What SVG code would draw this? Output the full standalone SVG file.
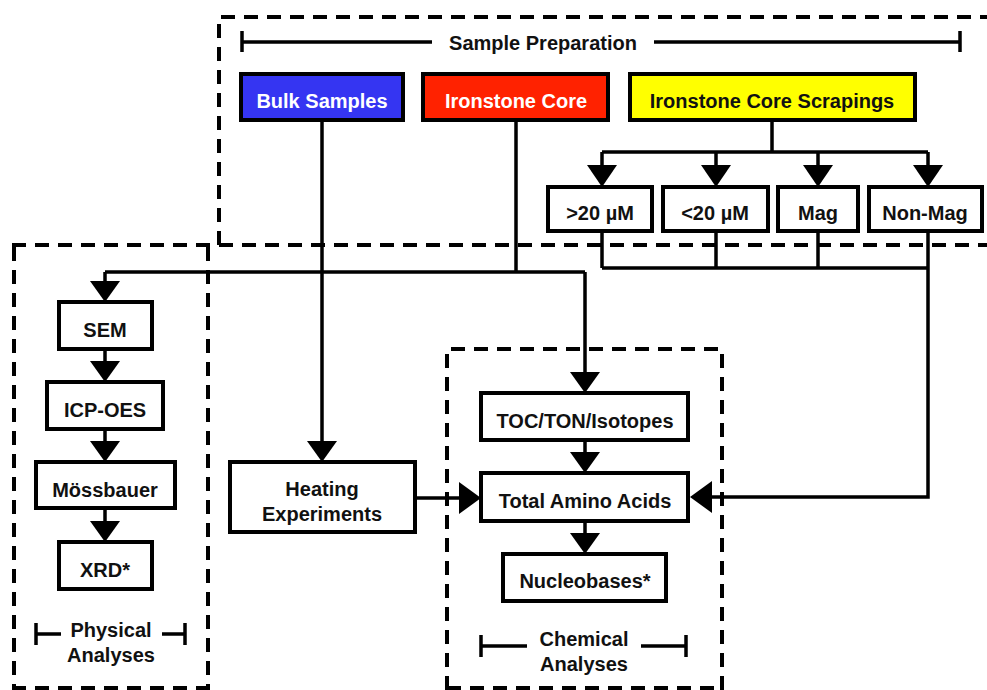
<svg xmlns="http://www.w3.org/2000/svg" width="987" height="690" viewBox="0 0 987 690">
  <style>
    .bg { fill: #ffffff; }
    .region { fill: none; stroke: #000; stroke-width: 4; stroke-dasharray: 14 9; }
    .box { fill: #ffffff; stroke: #000; stroke-width: 4; }
    .wire { fill: none; stroke: #000; stroke-width: 3.5; }
    .head { fill: #000; }
    .lbl { font-family: "Liberation Sans", Arial, sans-serif; font-weight: bold; font-size: 20px; fill: #111; text-anchor: middle; }
    .lbl.light { fill: #ffffff; }
    .brk { stroke: #000; stroke-width: 3.5; fill: none; }
  </style>

  <rect class="bg" x="0" y="0" width="987" height="690"/>

  <!-- Dashed grouping regions -->
  <g id="regions">
    <path class="region" d="M219,245 V17 H990"/>
    <path class="region" d="M12,245 H990"/>
    <path class="region" d="M14,247 V690"/>
    <path class="region" d="M208,247 V690"/>
    <path class="region" d="M12,688 H210"/>
    <path class="region" d="M447,690 V349 H722 V690"/>
    <path class="region" d="M447,688 H722"/>
  </g>

  <!-- Section headings with bracket bars -->
  <g id="label-sample-preparation">
    <path class="brk" d="M242,31 V52 M242,42 H432 M654,42 H960 M960,31 V52"/>
    <text class="lbl" x="543" y="50">Sample Preparation</text>
  </g>
  <g id="label-physical-analyses">
    <path class="brk" d="M36,623 V645 M36,634 H61 M162,634 H185 M185,623 V645"/>
    <text class="lbl" x="111" y="637">Physical</text>
    <text class="lbl" x="111" y="662">Analyses</text>
  </g>
  <g id="label-chemical-analyses">
    <path class="brk" d="M481,635 V657 M481,646 H527 M641,646 H686 M686,635 V657"/>
    <text class="lbl" x="584" y="646">Chemical</text>
    <text class="lbl" x="584" y="671">Analyses</text>
  </g>

  <!-- Connectors -->
  <g id="connectors">
    <!-- Bulk Samples to Heating Experiments -->
    <path class="wire" d="M322,120 V442"/>
    <polygon class="head" points="307,441 337,441 322,462"/>
    <!-- Ironstone Core to SEM and TOC -->
    <path class="wire" d="M516,120 V272 M105,272 H585 M105,272 V282 M585,272 V373"/>
    <polygon class="head" points="90,281 120,281 105,302"/>
    <polygon class="head" points="570,372 600,372 585,393"/>
    <!-- Scrapings split into fractions -->
    <path class="wire" d="M772,120 V152 M602,152 H928 M602,152 V166 M716,152 V166 M818,152 V166 M928,152 V166"/>
    <polygon class="head" points="587,165 617,165 602,187"/>
    <polygon class="head" points="701,165 731,165 716,187"/>
    <polygon class="head" points="803,165 833,165 818,187"/>
    <polygon class="head" points="913,165 943,165 928,187"/>
    <!-- Fractions collected to Total Amino Acids -->
    <path class="wire" d="M602,231 V268 M716,231 V268 M818,231 V268 M602,268 H928 M928,231 V497 H711"/>
    <polygon class="head" points="712,481 712,513 690,497"/>
    <!-- Heating Experiments to Total Amino Acids -->
    <path class="wire" d="M415,498 H460"/>
    <polygon class="head" points="459,482 459,514 481,498"/>
    <!-- Chemical chain -->
    <path class="wire" d="M585,440 V453 M585,521 V534"/>
    <polygon class="head" points="570,452 600,452 585,473"/>
    <polygon class="head" points="570,533 600,533 585,554"/>
    <!-- Physical chain -->
    <path class="wire" d="M105,349 V362 M105,429 V442 M105,508 V522"/>
    <polygon class="head" points="90,361 120,361 105,382"/>
    <polygon class="head" points="90,441 120,441 105,462"/>
    <polygon class="head" points="90,521 120,521 105,542"/>
  </g>

  <!-- Sample sources -->
  <g id="node-bulk-samples">
    <rect class="box" x="241" y="74" width="162" height="46" style="fill:#3535f2"/>
    <text class="lbl light" x="322" y="108">Bulk Samples</text>
  </g>
  <g id="node-ironstone-core">
    <rect class="box" x="423" y="74" width="185" height="46" style="fill:#ff2200"/>
    <text class="lbl light" x="516" y="108">Ironstone Core</text>
  </g>
  <g id="node-core-scrapings">
    <rect class="box" x="630" y="74" width="285" height="46" style="fill:#ffff00"/>
    <text class="lbl" x="772" y="108">Ironstone Core Scrapings</text>
  </g>

  <!-- Scraping fractions -->
  <g id="node-gt20">
    <rect class="box" x="548" y="187" width="104" height="44"/>
    <text class="lbl" x="600" y="220">&gt;20 µM</text>
  </g>
  <g id="node-lt20">
    <rect class="box" x="663" y="187" width="105" height="44"/>
    <text class="lbl" x="715" y="220">&lt;20 µM</text>
  </g>
  <g id="node-mag">
    <rect class="box" x="778" y="187" width="80" height="44"/>
    <text class="lbl" x="818" y="220">Mag</text>
  </g>
  <g id="node-nonmag">
    <rect class="box" x="869" y="187" width="113" height="44"/>
    <text class="lbl" x="925" y="220">Non-Mag</text>
  </g>

  <!-- Physical analyses -->
  <g id="node-sem">
    <rect class="box" x="59" y="302" width="93" height="47"/>
    <text class="lbl" x="105" y="337">SEM</text>
  </g>
  <g id="node-icp-oes">
    <rect class="box" x="47" y="382" width="116" height="47"/>
    <text class="lbl" x="105" y="417">ICP-OES</text>
  </g>
  <g id="node-mossbauer">
    <rect class="box" x="36" y="462" width="139" height="46"/>
    <text class="lbl" x="105" y="497">Mössbauer</text>
  </g>
  <g id="node-xrd">
    <rect class="box" x="59" y="542" width="93" height="47"/>
    <text class="lbl" x="105" y="577">XRD*</text>
  </g>

  <!-- Heating -->
  <g id="node-heating">
    <rect class="box" x="230" y="462" width="185" height="70"/>
    <text class="lbl" x="322" y="496">Heating</text>
    <text class="lbl" x="322" y="521">Experiments</text>
  </g>

  <!-- Chemical analyses -->
  <g id="node-toc">
    <rect class="box" x="481" y="393" width="207" height="47"/>
    <text class="lbl" x="585" y="428">TOC/TON/Isotopes</text>
  </g>
  <g id="node-amino-acids">
    <rect class="box" x="481" y="473" width="207" height="48"/>
    <text class="lbl" x="585" y="508">Total Amino Acids</text>
  </g>
  <g id="node-nucleobases">
    <rect class="box" x="503" y="554" width="163" height="47"/>
    <text class="lbl" x="585" y="588">Nucleobases*</text>
  </g>
</svg>
